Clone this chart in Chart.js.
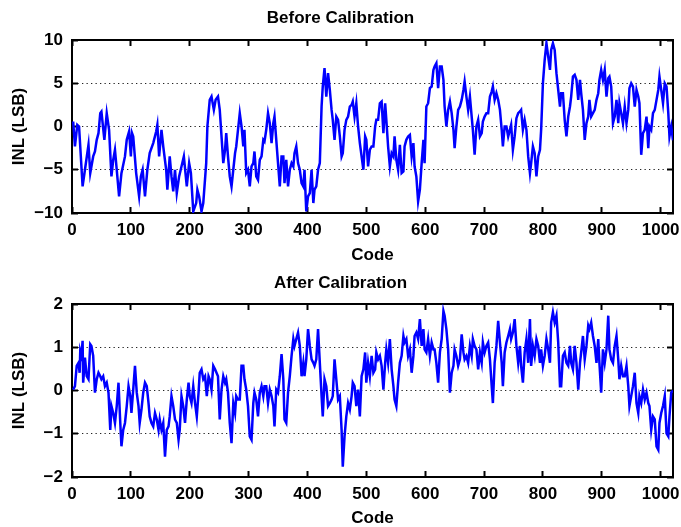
<!DOCTYPE html>
<html>
<head>
<meta charset="utf-8">
<script src="https://cdn.jsdelivr.net/npm/chart.js@4"></script>
<style>
  html, body { margin: 0; padding: 0; background: #fff; }
  #wrap { position: relative; width: 681px; height: 527px; overflow: hidden; background: #fff; }
  canvas { position: absolute; left: 0; }
</style>
</head>
<body>
<div id="wrap">
  <canvas id="c1" width="681" height="266" style="top:0px"></canvas>
  <canvas id="c2" width="681" height="261" style="top:266px"></canvas>
</div>
<script>
// ---------- DATA ----------
const codesBefore = [
  2, 5, 9, 12, 18, 22, 28, 31, 36, 39,
  42, 45, 48, 50, 55, 59, 63, 67, 70, 73,
  76, 80, 84, 90, 93, 97, 100, 102, 104, 109,
  114, 117, 120, 124, 128, 132, 138, 143, 145, 148,
  152, 155, 160, 162, 166, 169, 172, 175, 178, 182,
  186, 190, 195, 199, 202, 206, 211, 213, 216, 220,
  223, 228, 230, 234, 237, 241, 244, 248, 251, 254,
  257, 260, 262, 265, 268, 271, 274, 277, 279, 282,
  285, 288, 291, 293, 296, 299, 302, 305, 308, 310,
  313, 316, 319, 322, 325, 327, 330, 333, 336, 339,
  342, 344, 347, 350, 353, 356, 359, 361, 364, 367,
  370, 373, 376, 378, 381, 384, 387, 390, 393, 395,
  398, 401, 404, 407, 410, 412, 415, 418, 421, 424,
  426, 429, 432, 435, 438, 441, 443, 446, 449, 452,
  455, 458, 460, 463, 466, 469, 472, 475, 477, 480,
  483, 486, 489, 495, 498, 500, 503, 506, 509, 512,
  515, 517, 520, 523, 526, 529, 532, 534, 537, 540,
  543, 546, 548, 551, 554, 557, 560, 563, 565, 568,
  571, 574, 577, 580, 582, 585, 588, 591, 594, 597,
  599, 602, 605, 608, 611, 614, 616, 619, 622, 625,
  628, 631, 633, 636, 639, 642, 645, 648, 650, 653,
  656, 659, 662, 665, 667, 670, 673, 676, 679, 681,
  684, 687, 690, 693, 696, 698, 701, 704, 707, 710,
  713, 715, 718, 721, 724, 727, 730, 732, 735, 738,
  741, 746, 749, 752, 755, 758, 761, 763, 766, 769,
  772, 775, 778, 780, 783, 786, 789, 792, 795, 797,
  800, 803, 806, 809, 812, 814, 817, 820, 823, 826,
  829, 831, 834, 837, 840, 843, 846, 848, 851, 854,
  857, 860, 863, 865, 868, 871, 874, 877, 879, 882,
  885, 888, 891, 894, 896, 899, 902, 905, 908, 911,
  913, 916, 919, 922, 925, 928, 930, 933, 936, 939,
  942, 945, 947, 950, 953, 956, 959, 962, 964, 967,
  970, 973, 976, 979, 981, 984, 987, 990, 993, 996,
  998, 1001, 1004, 1007, 1010, 1013, 1015, 1018, 1021
];
const inlBefore = [
  0.58, -2.31, 0.19, 0, -6.93, -5.0, -2.12, -5.39, -3.46, -2.89,
  -1.54, -0.77, 1.54, 1.73, -1.54, 1.54, -0.38, -5.77, -3.85, -2.69,
  -5.0, -8.08, -5.39, -3.46, -1.54, -0.58, -3.46, -0.77, -1.15, -5.39,
  -8.08, -5.77, -5.0, -8.08, -5.0, -3.08, -1.92, -0.58, 0.19, -3.46,
  -0.38, -2.31, -5.0, -7.31, -3.46, -5.77, -7.51, -5.0, -7.70, -5.77,
  -4.62, -3.46, -6.93, -4.23, -5.39, -9.82, -8.85, -7.31, -8.08, -9.82,
  -8.85, -4.23, 0, 3.08, 3.46, 1.92, 3.08, 3.46, 1.92, -1.15,
  -4.23, -2.69, -0.77, -3.46, -5.77, -6.93, -5.0, -3.08, -2.31, -0.38,
  1.54, 0, -2.31, -0.38, -5.39, -5.0, -6.93, -4.62, -4.23, -2.89,
  -5.77, -6.16, -3.85, -3.46, -1.54, -1.73, -0.38, 1.54, 0.38, -1.92,
  0.38, 1.15, -1.54, -4.23, -6.93, -3.46, -3.46, -6.54, -3.85, -6.93,
  -5.0, -4.23, -4.62, -3.08, -2.31, -4.23, -5.0, -6.54, -6.93, -5.0,
  -9.82, -8.08, -7.70, -5.0, -8.85, -7.31, -6.93, -5.0, -4.23, 2.31,
  4.62, 6.74, 3.46, 6.16, 4.23, 1.92, 0.77, -1.54, 1.15, 0.77,
  -1.15, -3.46, -3.08, -0.38, 0.77, 1.15, 2.31, 2.50, 2.89, 1.15,
  2.69, 0, -1.92, -5.0, -1.15, -1.54, -4.62, -2.69, -2.31, -2.31,
  0, 0.77, 0.77, 2.69, 2.89, -0.77, 2.69, 0.77, -2.31, -4.62,
  -3.08, -3.46, -1.15, -3.85, -5.0, -2.12, -5.39, -5.20, -2.31, -1.54,
  -1.15, -0.96, -3.46, -1.92, -4.62, -5.77, -8.66, -7.31, -4.23, -1.54,
  -4.23, 2.31, 2.69, 4.43, 4.62, 6.54, 6.93, 7.31, 4.43, 6.93,
  6.93, 5.39, 2.31, 0, 1.92, 2.89, 1.54, -0.38, -2.50, 0,
  1.92, 2.31, 3.08, 4.23, 5.20, 3.46, 1.92, 3.46, 1.15, -0.38,
  -3.27, 0, 0.77, -1.15, -0.77, 0.58, 1.15, 1.54, 1.54, 3.46,
  4.04, 4.62, 3.08, 3.85, 3.08, 1.92, -0.38, -2.31, 0, 0,
  -1.15, 0.19, -2.69, -1.15, 0.96, 1.54, 1.73, 1.92, -0.38, 0.77,
  -0.38, -3.46, -5.39, -4.23, -2.31, -3.08, -5.77, -3.46, -2.69, -0.38,
  5.0, 7.70, 9.62, 8.08, 6.54, 8.85, 9.62, 8.85, 6.16, 4.23,
  2.31, 3.85, 3.85, 0.77, -1.15, 1.15, 2.31, 3.46, 5.77, 5.97,
  5.39, 3.08, 5.39, 3.85, 1.92, -1.54, 0.38, 1.15, 3.08, 1.15,
  1.54, 1.92, 3.08, 3.85, 5.39, 6.54, 5.39, 6.54, 3.46, 5.58,
  5.77, 4.62, 0.38, 1.15, 3.08, 0.38, 2.69, 1.54, 0.38, 2.31,
  0.38, 1.92, 4.43, 5.0, 4.62, 2.31, 4.23, 3.46, 2.69, -3.27,
  -0.77, -0.38, 1.15, -2.50, 0, -0.38, 1.54, 1.92, 3.08, 4.23,
  5.77, 4.23, 2.69, 5.0, 4.62, 1.54, -1.15, 0, -1.6
];

const codesAfter = [
  2, 5, 8, 11, 13, 14, 16, 18, 19, 22,
  25, 28, 31, 33, 36, 39, 42, 45, 48, 50,
  53, 56, 59, 62, 65, 67, 70, 73, 76, 79,
  82, 84, 87, 90, 93, 96, 99, 101, 104, 107,
  110, 113, 115, 118, 121, 124, 127, 130, 132, 135,
  138, 141, 144, 147, 149, 152, 155, 158, 161, 164,
  166, 169, 172, 175, 178, 181, 183, 186, 189, 192,
  195, 198, 200, 203, 206, 209, 212, 215, 217, 220,
  223, 226, 229, 232, 234, 237, 240, 243, 248, 251,
  254, 257, 260, 262, 265, 268, 271, 274, 277, 279,
  282, 285, 288, 291, 293, 296, 299, 302, 305, 308,
  310, 313, 316, 319, 322, 325, 327, 330, 333, 336,
  339, 342, 344, 347, 350, 353, 356, 359, 361, 364,
  367, 370, 373, 376, 378, 381, 384, 387, 390, 393,
  395, 398, 401, 404, 407, 410, 412, 415, 418, 421,
  424, 426, 429, 432, 435, 438, 441, 443, 446, 449,
  452, 455, 458, 460, 463, 466, 469, 472, 475, 477,
  480, 483, 486, 489, 492, 495, 498, 500, 503, 506,
  509, 512, 515, 517, 520, 523, 526, 529, 532, 534,
  537, 540, 543, 546, 548, 551, 554, 557, 560, 563,
  565, 568, 571, 574, 577, 580, 582, 585, 588, 591,
  594, 597, 599, 602, 605, 608, 611, 614, 616, 619,
  622, 625, 628, 631, 633, 636, 639, 642, 645, 648,
  650, 653, 656, 659, 662, 665, 667, 670, 673, 676,
  679, 681, 684, 687, 690, 693, 696, 698, 701, 704,
  707, 710, 713, 715, 718, 721, 724, 727, 730, 732,
  735, 738, 741, 744, 746, 749, 752, 755, 758, 761,
  763, 766, 769, 772, 775, 778, 780, 783, 786, 789,
  792, 795, 797, 800, 803, 806, 809, 812, 814, 817,
  820, 823, 826, 829, 831, 834, 837, 840, 843, 846,
  848, 851, 854, 857, 860, 863, 865, 868, 871, 874,
  877, 879, 882, 885, 888, 891, 894, 896, 899, 902,
  905, 908, 911, 913, 916, 919, 922, 925, 928, 930,
  933, 936, 939, 942, 945, 947, 950, 953, 956, 959,
  962, 964, 967, 970, 973, 976, 979, 981, 984, 987,
  990, 993, 996, 998, 1001, 1004, 1007, 1010, 1013, 1015,
  1018, 1021
];
const inlAfter = [
  0.02, 0.10, 0.57, 0.64, 0.41, 0.91, 0.80, 1.15, 0.18, 0.76,
  0.33, 0.26, 1.07, 1.03, 0.80, -0.05, 0.26, 0.41, 0.33, 0.26,
  0.33, 0.10, 0.18, -0.05, -0.91, -0.36, -0.52, -0.75, -0.36, 0.18,
  -0.75, -1.29, -0.91, -0.75, -0.36, 0.10, -0.13, -0.52, 0.02, 0.57,
  -0.05, -0.36, -0.75, -0.44, -0.05, 0.18, 0.10, -0.29, -0.60, -0.75,
  -0.83, -0.52, -0.67, -0.91, -0.67, -0.91, -0.75, -1.53, -0.91, -0.83,
  -0.60, -0.13, -0.36, -0.67, -0.75, -1.14, -0.91, -0.13, -0.36, -0.75,
  -0.21, 0.18, -0.13, -0.29, 0.10, -0.29, -0.60, -0.05, 0.41, 0.49,
  0.26, 0.33, -0.13, 0.33, 0.26, 0.02, 0.57, 0.49, 0.33, -0.67,
  0.02, 0.33, 0.18, 0.26, -0.05, -0.75, -1.22, -0.29, -0.52, -0.13,
  -0.21, -0.21, 0.57, 0.57, 0.26, 0.02, -0.36, -1.06, -1.14, -0.29,
  -0.05, -0.21, -0.60, -0.05, 0.10, -0.13, 0.10, 0.10, -0.29, 0.02,
  -0.13, -0.36, -0.83, 0.02, -0.05, 0.33, 0.84, 0.26, -0.67, -0.75,
  -0.05, 0.33, 0.80, 1.19, 1.03, 1.19, 1.34, 1.03, 0.33, 0.64,
  0.33, 0.72, 1.42, 1.03, 0.72, 0.64, 0.57, 0.72, 1.42, 0.64,
  -0.13, -0.60, 0.26, 0.10, -0.36, -0.29, -0.21, -0.13, 0.72, 0.26,
  -0.21, -0.13, -0.91, -1.76, -1.06, -0.60, -0.29, -0.44, -0.13, 0.18,
  0.10, -0.36, 0.02, -0.60, 0.33, 0.49, 0.88, 0.18, 0.64, 0.33,
  0.80, 0.41, 0.49, 0.88, 0.72, 0.80, 0.57, 0.02, 0.64, 0.95,
  0.64, 1.19, 0.49, 0.10, -0.21, -0.36, 0.18, 0.64, 0.80, 1.26,
  1.11, 1.19, 0.80, 0.95, 0.41, 0.80, 1.26, 1.34, 1.19, 1.65,
  1.03, 1.42, 0.95, 0.88, 1.19, 0.80, 1.11, 0.95, 0.95, 0.64,
  0.18, 0.88, 1.19, 1.84, 1.73, 1.42, 0.95, -0.05, 0.41, 0.57,
  0.95, 0.80, 0.57, 0.72, 1.30, 0.88, 0.72, 0.80, 0.64, 1.03,
  0.80, 1.19, 1.03, 0.95, 0.49, 0.88, 0.64, 1.11, 0.88, 1.03,
  1.11, 0.72, 0.10, -0.29, 0.64, 1.03, 1.61, 1.11, 0.64, 0.10,
  0.88, 1.11, 1.26, 1.42, 1.19, 1.34, 1.65, 1.03, 0.64, 1.03,
  0.57, 0.18, 0.88, 1.19, 0.64, 1.65, 0.57, 1.03, 0.80, 1.19,
  1.03, 0.64, 0.95, 0.57, 0.80, 1.19, 0.95, 0.64, 1.57, 1.81,
  1.57, 1.73, 1.11, 0.10, 0.10, 0.80, 0.88, 0.64, 0.57, 1.03,
  0.64, 0.49, 1.03, 0.64, 0.02, 0.64, 0.88, 1.26, 0.72, 1.03,
  1.50, 1.42, 1.57, 1.26, 1.03, 0.64, 1.19, 0.64, -0.05, 0.95,
  0.64, 0.95, 1.73, 0.95, 0.72, 0.64, 1.03, 1.26, 0.72, 0.26,
  0.57, 0.33, 0.33, 0.57, 0.10, -0.36, -0.13, 0.10, 0.41, -0.29,
  -0.52, -0.13, -0.29, 0.02, -0.21, -0.05, -0.29, -0.36, -0.91, -0.60,
  -0.67, -1.29, -1.37, -0.75, -0.52, -0.36, -0.13, -0.99, -1.06, -0.60,
  -0.05, 0
];

const xTickStep = 100;
const codeMin = 0, codeMax = 1021;
const yBefore = { min: -10, max: 10, step: 5 };
const yAfter  = { min: -2,  max: 2,  step: 1 };
const titles = ['Before Calibration', 'After Calibration'];
const xLabel = 'Code';
const yLabel = 'INL (LSB)';

// ---------- CHART ----------
const FONT = "'Liberation Sans', Arial, Helvetica, sans-serif";
Chart.defaults.font.family = FONT;
Chart.defaults.font.size = 17;
Chart.defaults.font.weight = 'bold';
Chart.defaults.color = '#000';

const fmt = v => (v < 0 ? '\u2212' + Math.abs(v) : String(v));

function makeChart(id, codes, vals, yr, title, cfg) {
  const pts = codes.map((c, i) => ({ x: c, y: vals[i] }));
  const tickGrid = { drawOnChartArea: false, drawTicks: true, tickLength: -6, tickWidth: 2, tickColor: '#000', tickBorderDash: [] };
  const border = { display: true, width: 2, color: '#000' };
  return new Chart(document.getElementById(id), {
    type: 'line',
    data: {
      datasets: [{
        data: pts,
        borderColor: 'rgb(0,0,255)',
        borderWidth: 2.5,
        pointRadius: 0,
        tension: 0,
        fill: false,
        xAxisID: 'x',
        yAxisID: 'y'
      }]
    },
    options: {
      responsive: false,
      animation: false,
      devicePixelRatio: 1,
      layout: { padding: 0 },
      plugins: {
        legend: { display: false },
        tooltip: { enabled: false },
        title: {
          display: true, text: title, color: '#000',
          font: { size: 17, weight: 'bold', family: FONT },
          padding: { top: cfg.titleTop, bottom: cfg.titleBottom }
        }
      },
      scales: {
        x: {
          type: 'linear', position: 'bottom', min: codeMin, max: codeMax,
          ticks: { stepSize: xTickStep, includeBounds: false, padding: 13, maxRotation: 0, autoSkip: false, color: '#000', callback: v => String(v) },
          grid: tickGrid,
          border: border,
          title: { display: true, text: xLabel, color: '#000', padding: { top: 0, bottom: cfg.xTitlePad } },
          afterFit: s => { s.height = cfg.xHeight; s.paddingLeft = 0; s.paddingRight = 0; }
        },
        xTop: {
          type: 'linear', position: 'top', min: codeMin, max: codeMax,
          ticks: { display: false, stepSize: xTickStep, includeBounds: false },
          grid: tickGrid,
          border: border,
          afterFit: s => { s.height = 0; s.paddingLeft = 0; s.paddingRight = 0; }
        },
        y: {
          type: 'linear', position: 'left', min: yr.min, max: yr.max,
          ticks: { stepSize: yr.step, padding: 15, color: '#000', callback: v => fmt(v) },
          grid: { drawOnChartArea: true, color: '#222', lineWidth: 1, drawTicks: true, tickLength: -6, tickWidth: 2, tickColor: '#000', tickBorderDash: [] },
          border: { display: true, width: 2, color: '#000', dash: [1.3, 3.2] },
          title: { display: true, text: yLabel, color: '#000', padding: { top: 9, bottom: 0 } },
          afterFit: s => { s.width = 72; s.paddingTop = 0; s.paddingBottom = 0; }
        },
        yRight: {
          type: 'linear', position: 'right', min: yr.min, max: yr.max,
          ticks: { display: false, stepSize: yr.step },
          grid: tickGrid,
          border: border,
          afterFit: s => { s.width = 8; s.paddingTop = 0; s.paddingBottom = 0; }
        }
      }
    }
  });
}

makeChart('c1', codesBefore, inlBefore, yBefore, titles[0],
  { titleTop: 7.8, titleBottom: 11.8, xHeight: 53, xTitlePad: 0 });
makeChart('c2', codesAfter, inlAfter, yAfter, titles[1],
  { titleTop: 6.8, titleBottom: 10.8, xHeight: 50, xTitlePad: -2 });
</script>
</body>
</html>
